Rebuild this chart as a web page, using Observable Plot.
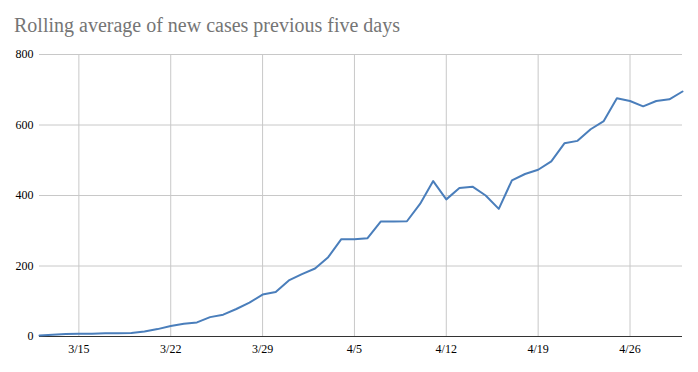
<!DOCTYPE html>
<html><head><meta charset="utf-8">
<script src="https://cdn.jsdelivr.net/npm/d3@7"></script>
<script src="https://cdn.jsdelivr.net/npm/@observablehq/plot@0.6"></script>
<style>
body{margin:0;background:#fff;}
#wrap{position:relative;width:698px;height:372px;}
#wrap svg, #wrap svg text{font-family:"Liberation Serif","DejaVu Serif",serif !important;font-size:12px;}
#title{position:absolute;left:14px;top:15px;font-size:20px;font-family:"Liberation Serif",serif;color:#757575;line-height:1;white-space:nowrap;}
</style></head><body>
<div id="wrap"></div>
<script>
const dates = [
  "2020-03-12","2020-03-13","2020-03-14","2020-03-15","2020-03-16","2020-03-17","2020-03-18","2020-03-19","2020-03-20","2020-03-21",
  "2020-03-22","2020-03-23","2020-03-24","2020-03-25","2020-03-26","2020-03-27","2020-03-28","2020-03-29","2020-03-30","2020-03-31",
  "2020-04-01","2020-04-02","2020-04-03","2020-04-04","2020-04-05","2020-04-06","2020-04-07","2020-04-08","2020-04-09","2020-04-10",
  "2020-04-11","2020-04-12","2020-04-13","2020-04-14","2020-04-15","2020-04-16","2020-04-17","2020-04-18","2020-04-19","2020-04-20",
  "2020-04-21","2020-04-22","2020-04-23","2020-04-24","2020-04-25","2020-04-26","2020-04-27","2020-04-28","2020-04-29","2020-04-30"
];
const values = [
  3,5,7,8,8,9,9,10,14,21,
  30,36,40,55,62,78,96,119,126,159,
  177,193,225,276,276,279,326,326,327,376,
  441,389,421,425,400,362,443,461,473,497,
  548,555,588,611,676,668,653,668,673,695
];
const xTickDates = ["2020-03-15","2020-03-22","2020-03-29","2020-04-05","2020-04-12","2020-04-19","2020-04-26"];
const yTicks = [0,200,400,600,800];
const titleText = "Rolling average of new cases previous five days";

const data = dates.map((d,i)=>({date:new Date(d+"T00:00:00Z"), value:values[i]}));
const xTicks = xTickDates.map(d=>new Date(d+"T00:00:00Z"));
const fmt = d => `${d.getUTCMonth()+1}/${d.getUTCDate()}`;

const chart = Plot.plot({
  width:698, height:372,
  marginTop:54, marginBottom:36, marginLeft:39, marginRight:16,
  style:{fontFamily:"Liberation Serif, serif", fontSize:"12px", color:"#000", background:"transparent"},
  x:{type:"utc", domain:[data[0].date, data[data.length-1].date]},
  y:{domain:[0,800]},
  marks:[
    Plot.gridX(xTicks, {stroke:"#c8c8c8", strokeOpacity:1}),
    Plot.gridY(yTicks.filter(v=>v>0), {stroke:"#c8c8c8", strokeOpacity:1}),
    Plot.axisX(xTicks, {tickSize:0, tickPadding:8, tickFormat:fmt, label:null, fill:"#000"}),
    Plot.axisY(yTicks, {tickSize:0, tickPadding:6, label:null, fill:"#000"}),
    Plot.ruleY([0], {stroke:"#333", strokeWidth:1}),
    Plot.line(data, {x:"date", y:"value", stroke:"#4a7ebb", strokeWidth:2})
  ]
});
const wrap = document.getElementById("wrap");
wrap.appendChild(chart);
const t = document.createElement("div");
t.id = "title";
t.textContent = titleText;
wrap.appendChild(t);
</script>
</body></html>
